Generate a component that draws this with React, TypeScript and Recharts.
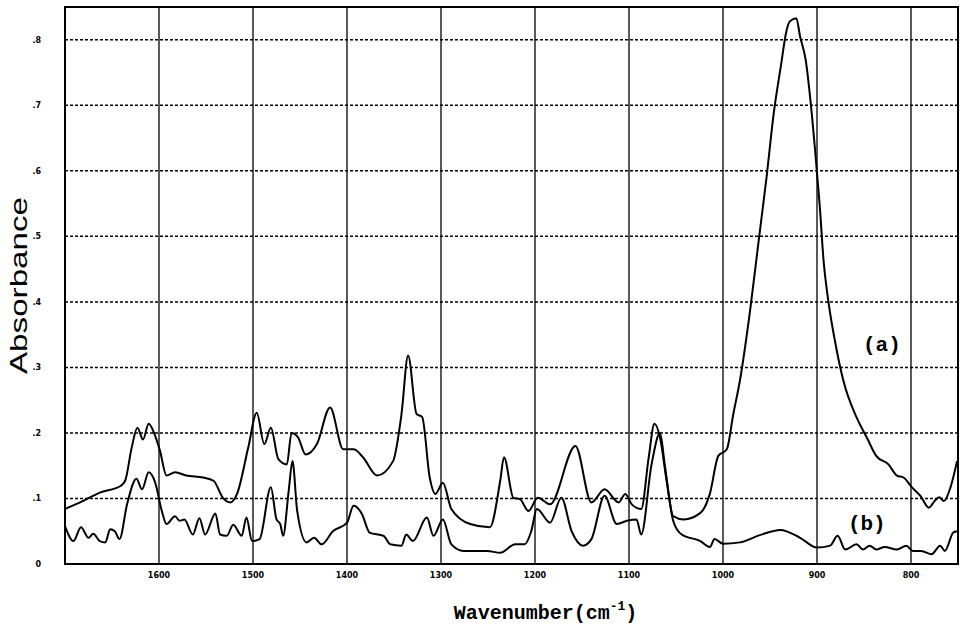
import React from "react";
import {
  LineChart,
  Line,
  XAxis,
  YAxis,
  CartesianGrid,
  ReferenceArea,
  ReferenceDot,
  Label,
} from "recharts";

// spectrum (a)
const wnA = [
  1700, 1684, 1663, 1641, 1636, 1629, 1623, 1617, 1611, 1605, 1599, 1592, 1583, 1571, 1553, 1542,
  1532, 1524, 1517, 1505, 1496, 1488, 1481, 1473, 1464, 1459, 1452, 1444, 1432, 1418, 1404, 1393,
  1383, 1368, 1351, 1342, 1335, 1326, 1320, 1312, 1306, 1298, 1289, 1269, 1248, 1237, 1233, 1223,
  1216, 1207, 1197, 1184, 1157, 1140, 1126, 1111, 1104, 1097, 1087, 1079, 1073, 1067, 1060, 1053,
  1042, 1024, 1014, 1005, 996, 989, 982, 971, 962, 954, 946, 938, 933, 929, 922, 918, 912, 907,
  902, 897, 893, 888, 881, 872, 858, 847, 837, 824, 815, 808, 799, 790, 781, 775, 770, 765, 758, 751,
];
const absA = [
  0.084, 0.094, 0.109, 0.119, 0.127, 0.178, 0.208, 0.19, 0.214, 0.199, 0.173, 0.135, 0.14, 0.135,
  0.132, 0.127, 0.101, 0.094, 0.107, 0.178, 0.231, 0.183, 0.208, 0.16, 0.152, 0.2, 0.193, 0.167,
  0.183, 0.239, 0.175, 0.175, 0.163, 0.135, 0.157, 0.229, 0.318, 0.229, 0.224, 0.132, 0.107, 0.124,
  0.084, 0.061, 0.056, 0.127, 0.163, 0.101, 0.099, 0.081, 0.101, 0.091, 0.18, 0.094, 0.114, 0.094,
  0.107, 0.091, 0.084, 0.163, 0.214, 0.193, 0.127, 0.073, 0.068, 0.078, 0.107, 0.165, 0.175, 0.229,
  0.28, 0.389, 0.494, 0.586, 0.688, 0.764, 0.81, 0.828, 0.833, 0.805, 0.769, 0.708, 0.631, 0.545,
  0.463, 0.402, 0.341, 0.28, 0.224, 0.193, 0.165, 0.152, 0.135, 0.132, 0.117, 0.104, 0.086, 0.096,
  0.102, 0.096, 0.117, 0.157,
];

// spectrum (b)
const wnB = [
  1700, 1691, 1683, 1675, 1670, 1663, 1657, 1652, 1647, 1642, 1634, 1624, 1618, 1611, 1604, 1597,
  1592, 1583, 1578, 1573, 1564, 1557, 1551, 1540, 1535, 1528, 1521, 1512, 1507, 1501, 1493, 1481,
  1475, 1471, 1468, 1462, 1458, 1453, 1443, 1435, 1427, 1415, 1400, 1393, 1384, 1376, 1361, 1354,
  1342, 1337, 1330, 1315, 1308, 1298, 1289, 1276, 1251, 1237, 1221, 1211, 1204, 1198, 1184, 1172,
  1161, 1149, 1140, 1126, 1113, 1102, 1092, 1087, 1076, 1067, 1062, 1053, 1044, 1024, 1014, 1009,
  1000, 982, 961, 939, 918, 900, 886, 878, 870, 858, 851, 844, 837, 828, 815, 805, 798, 789, 778,
  769, 764, 755, 751,
];
const absB = [
  0.058, 0.035, 0.056, 0.04, 0.046, 0.035, 0.033, 0.053, 0.05, 0.038, 0.091, 0.13, 0.114, 0.14,
  0.124, 0.081, 0.061, 0.073, 0.066, 0.068, 0.045, 0.07, 0.045, 0.077, 0.045, 0.043, 0.06, 0.043,
  0.071, 0.035, 0.038, 0.117, 0.068, 0.061, 0.043, 0.112, 0.157, 0.081, 0.033, 0.04, 0.03, 0.05,
  0.063, 0.089, 0.076, 0.048, 0.043, 0.03, 0.028, 0.045, 0.035, 0.071, 0.043, 0.068, 0.03, 0.02,
  0.02, 0.017, 0.03, 0.03, 0.05, 0.084, 0.063, 0.101, 0.05, 0.028, 0.038, 0.104, 0.061, 0.066,
  0.068, 0.045, 0.152, 0.2, 0.152, 0.066, 0.045, 0.035, 0.026, 0.038, 0.031, 0.033, 0.044, 0.052,
  0.04, 0.025, 0.028, 0.043, 0.022, 0.03, 0.022, 0.028, 0.022, 0.026, 0.022, 0.028, 0.02, 0.02,
  0.015, 0.028, 0.02, 0.048, 0.05,
];

const xTicks = [1600, 1500, 1400, 1300, 1200, 1100, 1000, 900, 800];
const yTicks = [0, 0.1, 0.2, 0.3, 0.4, 0.5, 0.6, 0.7, 0.8];
const yTickLabels = ["0", ".1", ".2", ".3", ".4", ".5", ".6", ".7", ".8"];

const dataA = wnA.map((wn, i) => ({ wn, abs: absA[i] }));
const dataB = wnB.map((wn, i) => ({ wn, abs: absB[i] }));

const tickStyle = { fontSize: 8, fontWeight: 700, fill: "#000", fontFamily: "DejaVu Sans" };

function XTitle(props: any) {
  const vb = props.viewBox;
  const cx = vb.x + vb.width / 2;
  return (
    <text
      x={cx + 34}
      y={vb.y + 55}
      textAnchor="middle"
      fontFamily="Liberation Mono"
      fontWeight={700}
      fontSize={20}
      fill="#000"
    >
      <tspan>Wavenumber(cm</tspan>
      <tspan dy={-9} fontSize={13}>-1</tspan>
      <tspan dy={9}>)</tspan>
    </text>
  );
}

function YTitle(props: any) {
  const vb = props.viewBox;
  const cy = vb.y + vb.height / 2;
  return (
    <text
      x={0}
      y={0}
      transform={`translate(27, ${cy}) rotate(-90)`}
      textAnchor="middle"
      fontFamily="Liberation Sans"
      fontSize={24}
      textLength={177}
      lengthAdjust="spacingAndGlyphs"
      fill="#000"
    >
      Absorbance
    </text>
  );
}

export default function App() {
  return (
    <div style={{ position: "absolute", left: 0, top: 0, background: "#fff" }}>
      <LineChart width={961} height={630} margin={{ top: 7, right: 3, bottom: 16, left: 0 }}>
        <CartesianGrid horizontal={false} stroke="#000" strokeWidth={1.3} />
        <CartesianGrid vertical={false} stroke="#000" strokeWidth={1.5} strokeDasharray="3 2" />
        <XAxis
          type="number"
          dataKey="wn"
          domain={[750, 1700]}
          reversed
          ticks={xTicks}
          tickLine={false}
          axisLine={false}
          tick={tickStyle}
          height={50}
        >
          <Label content={<XTitle />} />
        </XAxis>
        <YAxis
          type="number"
          domain={[0, 0.85]}
          ticks={yTicks}
          tickFormatter={(v: number) => yTickLabels[yTicks.indexOf(v)] ?? ""}
          tickLine={false}
          axisLine={false}
          tick={tickStyle}
          tickMargin={18}
          width={65}
        >
          <Label content={<YTitle />} />
        </YAxis>
        <ReferenceArea x1={1700} x2={750} y1={0} y2={0.85} fill="none" stroke="#000" strokeWidth={2} />
        <Line
          data={dataA}
          dataKey="abs"
          type="monotone"
          stroke="#000"
          strokeWidth={2}
          dot={false}
          isAnimationActive={false}
        />
        <Line
          data={dataB}
          dataKey="abs"
          type="monotone"
          stroke="#000"
          strokeWidth={2}
          dot={false}
          isAnimationActive={false}
        />
        <ReferenceDot
          x={831}
          y={0.336}
          r={0}
          label={{ value: "(a)", fontSize: 21, fontWeight: 700, fontFamily: "Liberation Mono", fill: "#000", position: "center" }}
        />
        <ReferenceDot
          x={847}
          y={0.064}
          r={0}
          label={{ value: "(b)", fontSize: 21, fontWeight: 700, fontFamily: "Liberation Mono", fill: "#000", position: "center" }}
        />
      </LineChart>
    </div>
  );
}
